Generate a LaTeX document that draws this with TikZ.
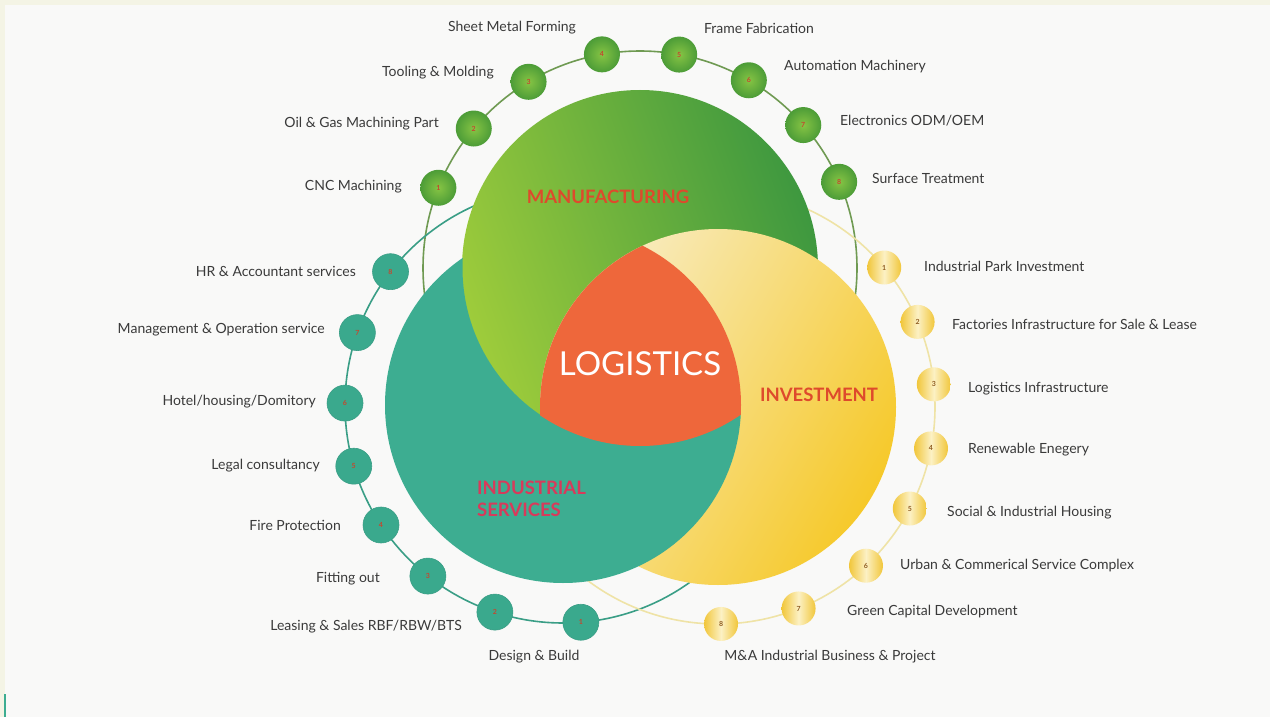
\documentclass[tikz,border=0pt]{standalone}
\usepackage{fontspec}
\setmainfont{Lato}
\usetikzlibrary{positioning}

\definecolor{paper}{HTML}{F9F9F8}
\definecolor{paperedge}{HTML}{F4F4E5}
\definecolor{mfglime}{HTML}{9ECC3B}
\definecolor{mfgdark}{HTML}{3E983F}
\definecolor{svcteal}{HTML}{3DAD91}
\definecolor{invpale}{HTML}{F8EDC6}
\definecolor{invgold}{HTML}{F6C92A}
\definecolor{logred}{HTML}{EE673B}
\definecolor{mfgring}{HTML}{6F9A52}
\definecolor{svcring}{HTML}{3A9E86}
\definecolor{invring}{HTML}{EFE3A6}
\definecolor{dotlime}{HTML}{86C444}
\definecolor{dotgreen}{HTML}{4C9C37}
\definecolor{dotteal}{HTML}{3AA98D}
\definecolor{dotgold}{HTML}{F1C63A}
\definecolor{dotcream}{HTML}{FCF1C4}
\definecolor{numred}{HTML}{C4472F}
\definecolor{numbrown}{HTML}{8E5B1F}
\definecolor{lbltext}{HTML}{3A3A3A}
\definecolor{headred}{HTML}{DE4A2C}
\definecolor{headpink}{HTML}{D83A5B}

\tikzset{
  lbl/.style={text=lbltext, inner sep=0pt, font=\fontsize{14}{16}\selectfont},
  numdot/.style={circle, minimum size=36pt, inner sep=0pt, font=\fontsize{7}{8}\selectfont\bfseries},
  mdot/.style={numdot, inner color=dotlime, outer color=dotgreen, text=numred},
  sdot/.style={numdot, fill=dotteal, draw=svcring, line width=0.6, text=numred},
  vdot/.style={numdot, left color=dotgold, right color=dotgold, middle color=dotcream, text=numbrown, minimum size=34pt},
  head/.style={inner sep=0pt, font=\fontsize{18.5}{22}\selectfont\bfseries}
}

\begin{document}
\begin{tikzpicture}[x=1pt, y=-1pt]
    % page
    \useasboundingbox (0,0) rectangle (1270,717);
    \fill[paper] (0,0) rectangle (1270,717);
    \fill[paperedge] (0,0) rectangle (1270,5);
    \fill[paperedge] (0,0) rectangle (5,717);
    \fill[svcteal] (4,694) rectangle (6,717);

    \coordinate (gc) at (640,268);
    \coordinate (tc) at (563,405);
    \coordinate (yc) at (718,407);

    % outer rings
    \draw[mfgring, line width=1.6] (gc) circle (217);
    \draw[svcring, line width=1.6] (tc) circle (218);
    \draw[invring, line width=1.6] (yc) circle (217);

    % interlocking circles
    \shade[left color=mfglime, right color=mfgdark, shading angle=110] (gc) circle (178);
    \shade[left color=invpale, right color=invgold, shading angle=60] (yc) circle (178);
    \begin{scope}[even odd rule]
        \clip (0,0) rectangle (1270,717) (gc) circle (177.5);
        \fill[svcteal] (tc) circle (178);
    \end{scope}
    \begin{scope}
        \clip (gc) circle (178);
        \clip (tc) circle (178);
        \fill[logred] (yc) circle (178);
    \end{scope}

    \node[head, text=headred] (mfg) at (608,197) {MANUFACTURING};
    \node[inner sep=0pt, text=white, font=\fontsize{33}{36}\selectfont] (lgs) at (640,364) {LOGISTICS};
    \node[head, text=headred] (inv) at (819,395) {INVESTMENT};
    \node[head, text=headpink, anchor=west, align=left, font=\fontsize{18.5}{22}\selectfont\bfseries] (svc) at (477,499) {INDUSTRIAL\\SERVICES};

    % numbered dots
    \foreach \a/\n in {-158.3/1,-140/2,-120.9/3,-100.1/4,-79.6/5,-59.9/6,-41.2/7,-23.4/8}
        \node[mdot] (m\n) at ([shift={(\a:217)}]gc) {\n};
    \foreach \a/\n in {85.3/1,108.2/2,128.3/3,146.6/4,163.7/5,180.5/6,199.4/7,217.7/8}
        \node[sdot] (s\n) at ([shift={(\a:218)}]tc) {\n};
    \foreach \a/\n in {-40/1,-23.1/2,-6/3,11/4,27.9/5,47/6,68.2/7,89.2/8}
        \node[vdot] (v\n) at ([shift={(\a:217)}]yc) {\n};

    % manufacturing labels
    \node[lbl, anchor=east] (ml1) at (402,187) {CNC Machining};
    \node[lbl, anchor=east] (ml2) at (439,124) {Oil \& Gas Machining Part};
    \node[lbl, anchor=east] (ml3) at (494,73) {Tooling \& Molding};
    \node[lbl] (ml4) at (512,28) {Sheet Metal Forming};
    \node[lbl] (ml5) at (759,28) {Frame Fabrication};
    \node[lbl, anchor=west] (ml6) at (784,67) {Automation Machinery};
    \node[lbl, anchor=west] (ml7) at (840,121) {Electronics ODM/OEM};
    \node[lbl, anchor=west] (ml8) at (872,178) {Surface Treatment};

    % industrial services labels
    \node[lbl] (sl1) at (534,657) {Design \& Build};
    \node[lbl, anchor=east] (sl2) at (462,627) {Leasing \& Sales RBF/RBW/BTS};
    \node[lbl, anchor=east] (sl3) at (380,579) {Fitting out};
    \node[lbl, anchor=east] (sl4) at (341,525) {Fire Protection};
    \node[lbl, anchor=east] (sl5) at (320,466) {Legal consultancy};
    \node[lbl, anchor=east] (sl6) at (316,402) {Hotel/housing/Domitory};
    \node[lbl, anchor=east] (sl7) at (325,330) {Management \& Operation service};
    \node[lbl, anchor=east] (sl8) at (356,271) {HR \& Accountant services};

    % investment labels
    \node[lbl, anchor=west] (vl1) at (924,266) {Industrial Park Investment};
    \node[lbl, anchor=west] (vl2) at (952,324) {Factories Infrastructure for Sale \& Lease};
    \node[lbl, anchor=west] (vl3) at (968,389) {Logistics Infrastructure};
    \node[lbl, anchor=west] (vl4) at (968,450) {Renewable Enegery};
    \node[lbl, anchor=west] (vl5) at (947,513) {Social \& Industrial Housing};
    \node[lbl, anchor=west] (vl6) at (900,566) {Urban \& Commerical Service Complex};
    \node[lbl, anchor=west] (vl7) at (847,612) {Green Capital Development};
    \node[lbl] (vl8) at (830,657) {M\&A Industrial Business \& Project};
\end{tikzpicture}
\end{document}
